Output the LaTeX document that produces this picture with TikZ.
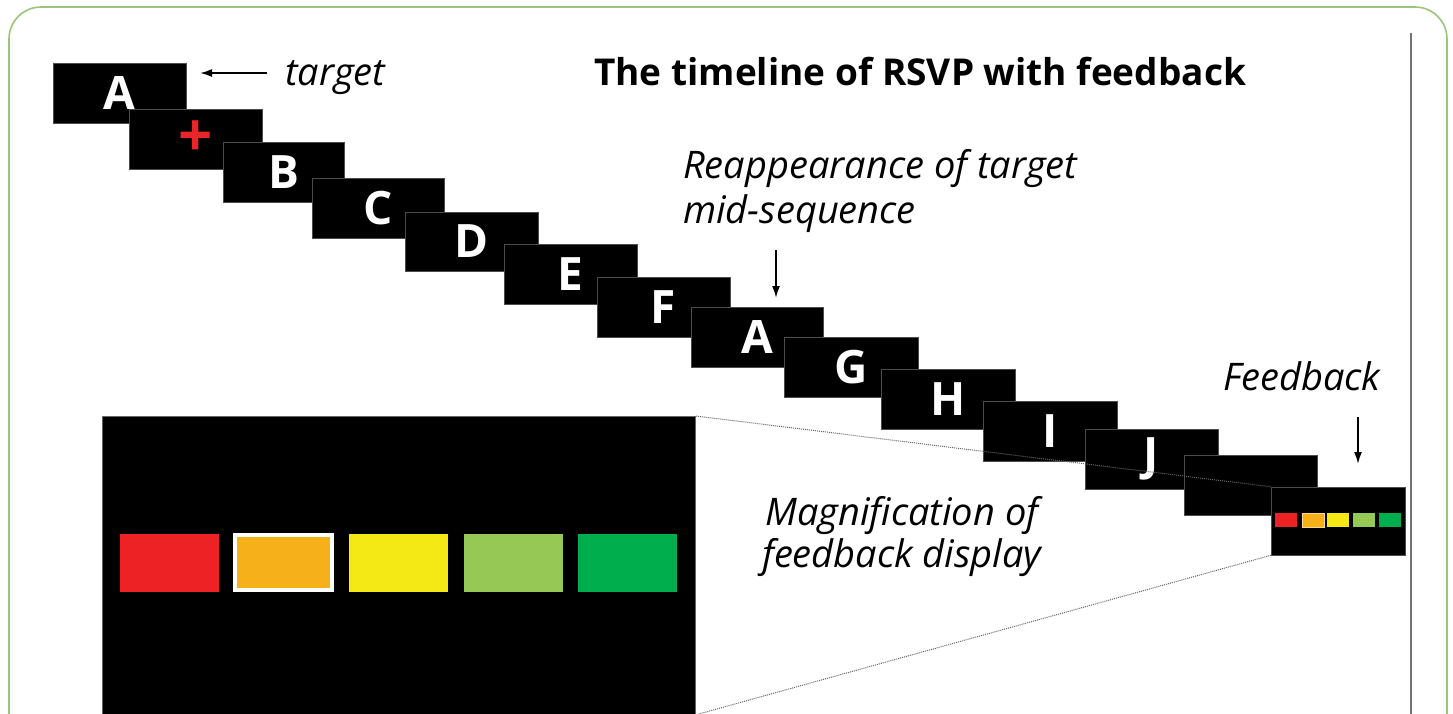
\documentclass[tikz,border=0pt]{standalone}
\usepackage{fontspec}
\setmainfont{Open Sans}
\usetikzlibrary{arrows.meta}
\definecolor{frameGreen}{HTML}{9CC57C}
\definecolor{sqRed}{HTML}{ED2224}
\definecolor{sqOrange}{HTML}{F5B01A}
\definecolor{sqYellow}{HTML}{F5E915}
\definecolor{sqLight}{HTML}{96C855}
\definecolor{sqGreen}{HTML}{00AE4D}
\definecolor{plusRed}{HTML}{E8262A}
\begin{document}
\begin{tikzpicture}[x=1pt,y=-1pt,
  slide/.style={fill=black,draw=black!70,line width=0.6pt,inner sep=0pt,
    minimum width=133pt,minimum height=60pt,text=white,
    font=\fontsize{46}{46}\selectfont\bfseries},
  bigsq/.style={fill=#1,inner sep=0pt,minimum width=99pt,minimum height=58pt},
  smallsq/.style={fill=#1,inner sep=0pt,minimum width=22pt,minimum height=14pt},
  label/.style={inner sep=0pt,anchor=base west,font=\fontsize{38}{44}\selectfont\itshape},
  arr/.style={line width=1.8pt,-{Latex[length=12pt,width=8pt]}},
  zoomline/.style={draw=black!60,line width=1pt,dash pattern=on 1pt off 1pt}]
\clip (0,0) rectangle (1453,713);
\useasboundingbox (0,0) rectangle (1453,713);
\fill[white] (0,0) rectangle (1453,713);
% frame
\draw[frameGreen,line width=1.6pt,rounded corners=32pt] (9,7) rectangle (1447,780);
\draw[black!55,line width=2pt] (1411,33) -- (1411,720);
% title
\node[inner sep=0pt,anchor=base west,font=\fontsize{37}{44}\selectfont\bfseries] (title) at (594,85) {The timeline of RSVP with feedback};
% slides
\node[slide] (sA) at (119.5,93) {A};
\node[slide,font=\fontsize{60}{60}\selectfont\bfseries] (sP) at (195.5,139) {\textcolor{plusRed}{+}};
\node[slide,minimum width=121pt] (sB) at (283.5,172) {B};
\node[slide,minimum width=132pt] (sC) at (378,208) {C};
\node[slide,minimum height=59pt] (sD) at (471.5,241.5) {D};
\node[slide] (sE) at (570.5,274) {E};
\node[slide] (sF) at (663.5,307) {F};
\node[slide,minimum width=132pt] (sA2) at (757,337) {A};
\node[slide,minimum width=134pt] (sG) at (851,367) {G};
\node[slide,minimum width=134pt] (sH) at (948,399) {H};
\node[slide,minimum width=134pt] (sI) at (1050,431) {I};
\node[slide] (sJ) at (1151.5,459) {J};
\node[slide] (sK) at (1250.5,485) {};
\node[slide,minimum width=134pt,minimum height=68pt] (fb) at (1338,521) {};
\node[smallsq=sqRed] (f1) at (1286,520) {};
\node[smallsq=sqOrange,draw=sqOrange!50!white,line width=0.6pt] (f2) at (1313,520) {};
\node[smallsq=sqYellow] (f3) at (1338,520) {};
\node[smallsq=sqLight] (f4) at (1364,520) {};
\node[smallsq=sqGreen] (f5) at (1390,520) {};
% magnified display
\node[fill=black,draw=black!60,line width=0.8pt,inner sep=0pt,minimum width=593pt,minimum height=298pt,anchor=north west] (mag) at (102,416) {};
\node[bigsq=sqRed] (m1) at (169.5,563) {};
\node[bigsq=sqOrange,draw=white,line width=4pt,minimum width=97pt,minimum height=55pt] (m2) at (283.5,562.5) {};
\node[bigsq=sqYellow] (m3) at (398.5,563) {};
\node[bigsq=sqLight] (m4) at (513,563) {};
\node[bigsq=sqGreen] (m5) at (627.5,563) {};
% zoom lines
\draw[zoomline] (mag.north east) -- (fb.north west);
\draw[zoomline] (mag.south east) -- (fb.south west);
% labels
\node[label] (tgt) at (285,85) {target};
\node[label] (reap1) at (683,178) {Reappearance of target};
\node[label] (reap2) at (683,223) {mid-sequence};
\node[label] (fbl) at (1223,390) {Feedback};
\node[label] (mag1) at (765,525) {Magnification of};
\node[label] (mag2) at (762,567) {feedback display};
% arrows
\coordinate (tgtTail) at (267,73);
\coordinate (tgtHead) at (200,73);
\coordinate (reTail) at (776,250);
\coordinate (reHead) at (776,298);
\coordinate (fbTail) at (1358,417);
\coordinate (fbHead) at (1358,464);
\draw[arr] (tgtTail) -- (tgtHead);
\draw[arr] (reTail) -- (reHead);
\draw[arr] (fbTail) -- (fbHead);
\end{tikzpicture}
\end{document}
